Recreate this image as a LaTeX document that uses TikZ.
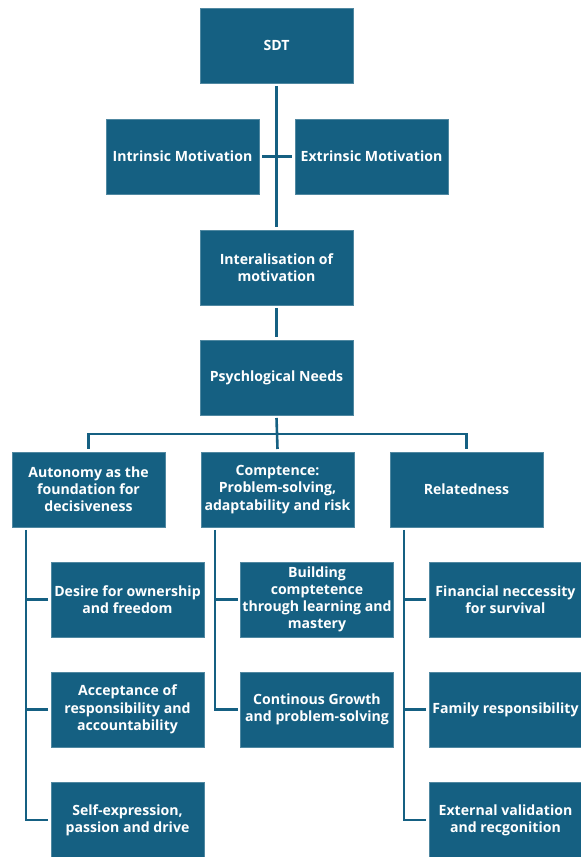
\documentclass[tikz,border=0pt]{standalone}
\usepackage{fontspec}
\setmainfont{Open Sans}
\usetikzlibrary{calc}
\definecolor{boxblue}{HTML}{156082}
\begin{document}
\begin{tikzpicture}[x=1pt,y=1pt,
  box/.style={rectangle, fill=boxblue, draw=boxblue!75!white, line width=0.6pt,
    minimum width=153pt, minimum height=75pt, inner sep=1pt, outer sep=3pt,
    align=center, text=white,
    font=\fontsize{14.1}{17.2}\selectfont\bfseries},
  link/.style={draw=boxblue, line width=2.6pt}]
\useasboundingbox (0,0) rectangle (581,857);
\clip (0,0) rectangle (581,857);

% top of the hierarchy
\node[box] (sdt)   at (276.5,811.5) {SDT};
\node[box] (intr)  at (182.5,700.5) {Intrinsic Motivation};
\node[box] (extr)  at (371.5,700.5) {Extrinsic Motivation};
\node[box] (inter) at (276.5,589.5) {Interalisation of\\motivation};
\node[box] (psych) at (276.5,479.5) {Psychlogical Needs};

% the three needs
\node[box] (aut)  at (88.5,367.5)  {Autonomy as the\\foundation for\\decisiveness};
\node[box] (comp) at (277.5,367.5) {Comptence:\\Problem-solving,\\adaptability and risk};
\node[box] (rel)  at (466.5,367.5) {Relatedness};

% autonomy branch
\node[box] (desire) at (127.5,257.5) {Desire for ownership\\and freedom};
\node[box] (accept) at (127.5,147.5) {Acceptance of\\responsibility and\\accountability};
\node[box] (selfx)  at (127.5,37)    {Self-expression,\\passion and drive};

% competence branch
\node[box] (build) at (317,257.5) {Building\\comptetence\\through learning and\\mastery};
\node[box] (grow)  at (317,147.5) {Continous Growth\\and problem-solving};

% relatedness branch
\node[box] (fin) at (505.5,257.5) {Financial neccessity\\for survival};
\node[box] (fam) at (505.5,147.5) {Family responsibility};
\node[box] (ext) at (505.5,37)    {External validation\\and recgonition};

% connectors
\draw[link] (sdt.south) -- (inter.north);
\draw[link] (intr.east) -- (extr.west);
\draw[link] (inter.south) -- (psych.north);

\coordinate (bus) at (0,423);
\draw[link] (psych.south) -- (comp.north);
\draw[link] (aut.north) -- (aut.north |- bus) -- (rel.north |- bus) -- (rel.north);

\coordinate (sA) at ($(aut.south west)+(17pt,0)$);
\coordinate (sC) at ($(comp.south west)+(17pt,0)$);
\coordinate (sR) at ($(rel.south west)+(17pt,0)$);

\draw[link] (sA) |- (selfx.west);
\draw[link] (desire.west) -- (desire.west -| sA);
\draw[link] (accept.west) -- (accept.west -| sA);

\draw[link] (sC) |- (grow.west);
\draw[link] (build.west) -- (build.west -| sC);

\draw[link] (sR) |- (ext.west);
\draw[link] (fin.west) -- (fin.west -| sR);
\draw[link] (fam.west) -- (fam.west -| sR);
\end{tikzpicture}
\end{document}
